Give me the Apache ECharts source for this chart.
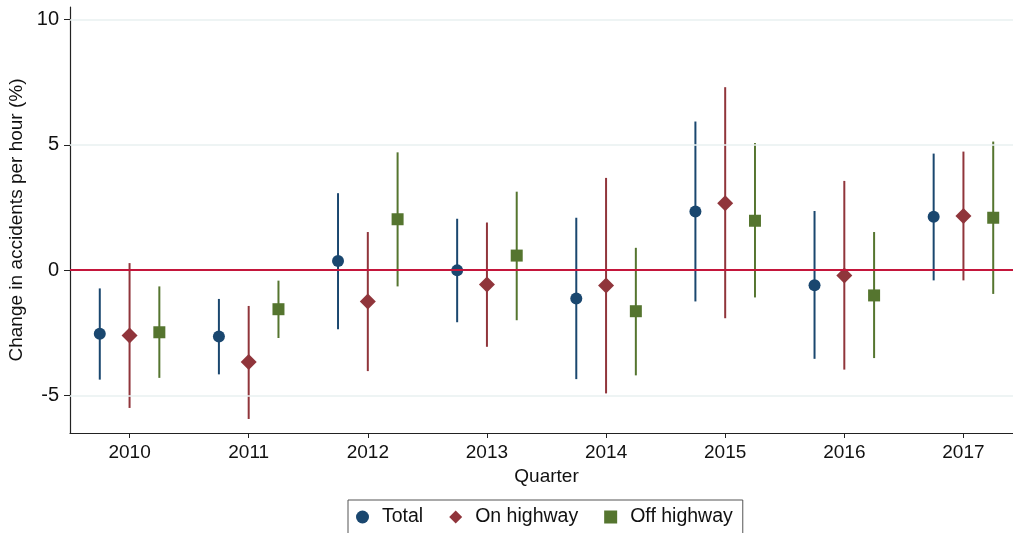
<!DOCTYPE html>
<html>
<head>
<meta charset="utf-8">
<script src="https://cdn.jsdelivr.net/npm/echarts@6/dist/echarts.min.js"></script>
<style>
  html, body { margin: 0; padding: 0; background: #fff; }
  #chart { width: 1013px; height: 533px; }
</style>
</head>
<body>
<div id="chart"></div>
<script>
// Años (posición de cada grupo en el eje x)
const years = [2010, 2011, 2012, 2013, 2014, 2015, 2016, 2017];
const yTicks = [-5, 0, 5, 10];

// Estimaciones e intervalos de confianza
const totalEst = [-2.54, -2.65, 0.36, -0.01, -1.13, 2.34, -0.60, 2.13];
const totalLo  = [-4.37, -4.16, -2.36, -2.08, -4.35, -1.25, -3.54, -0.41];
const totalHi  = [-0.73, -1.15, 3.07, 2.05, 2.09, 5.93, 2.36, 4.65];

const onEst = [-2.61, -3.67, -1.25, -0.57, -0.61, 2.67, -0.21, 2.16];
const onLo  = [-5.50, -5.94, -4.03, -3.06, -4.92, -1.92, -3.97, -0.41];
const onHi  = [0.28, -1.43, 1.52, 1.90, 3.68, 7.30, 3.56, 4.73];

const offEst = [-2.48, -1.56, 2.03, 0.58, -1.64, 1.97, -1.01, 2.09];
const offLo  = [-4.30, -2.71, -0.65, -2.00, -4.20, -1.09, -3.51, -0.95];
const offHi  = [-0.65, -0.42, 4.70, 3.13, 0.89, 5.07, 1.52, 5.13];

const FONT = "'Liberation Sans', Arial, sans-serif";
const NAVY = '#1a476f';
const MAROON = '#90353b';
const GREEN = '#55752f';

// Barras de error: una línea vertical por punto
function errorSeries(offset, lo, hi, color) {
    return {
        type: 'custom',
        silent: true,
        z: 1,
        data: years.map((y, i) => [y + offset, lo[i], hi[i]]),
        renderItem: (params, api) => {
            const a = api.coord([api.value(0), api.value(1)]);
            const b = api.coord([api.value(0), api.value(2)]);
            return {
                type: 'line',
                shape: { x1: a[0], y1: a[1], x2: b[0], y2: b[1] },
                style: { stroke: color, lineWidth: 2 }
            };
        }
    };
}

function pointSeries(name, offset, est, symbol, size, color) {
    return {
        name: name,
        type: 'scatter',
        z: 3,
        symbol: symbol,
        symbolSize: size,
        itemStyle: { color: color, opacity: 1 },
        data: years.map((y, i) => [y + offset, est[i]])
    };
}

const chart = echarts.init(document.getElementById('chart'));

const option = {
    animation: false,
    backgroundColor: '#fff',
    textStyle: { fontFamily: FONT },
    grid: { left: 70, right: -10, top: 7, bottom: 100, containLabel: false, outerBoundsMode: 'none' },
    legend: {
        data: ['Total', 'On highway', 'Off highway'],
        left: 348,
        top: 500,
        padding: [7, 10, 20, 8],
        borderColor: '#555',
        borderWidth: 1,
        itemWidth: 13,
        itemHeight: 13,
        itemGap: 26,
        textStyle: { fontSize: 19.5, color: '#111', fontFamily: FONT, padding: [0, 0, 0, 8] }
    },
    xAxis: {
        type: 'value',
        min: 2009.5,
        max: 2017.5,
        name: 'Quarter',
        nameLocation: 'middle',
        nameGap: 32,
        nameTextStyle: { fontSize: 19, color: '#111', fontFamily: FONT },
        splitLine: { show: false },
        axisLine: { onZero: false, lineStyle: { color: '#222', width: 1.2 } },
        axisTick: { customValues: years, length: 5, lineStyle: { color: '#222' } },
        axisLabel: {
            customValues: years,
            fontSize: 19,
            color: '#111',
            margin: 10,
            formatter: v => String(v)
        }
    },
    yAxis: {
        type: 'value',
        min: -6.5,
        max: 10.5,
        name: 'Change in accidents per hour (%)',
        nameLocation: 'middle',
        nameRotate: 90,
        nameGap: 42,
        nameTextStyle: { fontSize: 19, color: '#111', fontFamily: FONT },
        splitLine: { show: false },
        axisLine: { show: true, onZero: false, lineStyle: { color: '#222', width: 1.2 } },
        axisTick: { show: true, customValues: yTicks, length: 6, lineStyle: { color: '#222' } },
        axisLabel: {
            customValues: yTicks,
            fontSize: 20,
            color: '#111',
            margin: 11,
            formatter: v => String(v)
        }
    },
    series: [
        // Líneas de cuadrícula y línea roja en cero
        {
            type: 'line',
            data: [],
            silent: true,
            z: 0,
            markLine: {
                silent: true,
                symbol: 'none',
                label: { show: false },
                animation: false,
                data: [
                    { yAxis: -5, lineStyle: { color: '#e9f0f1', width: 1.5, type: 'solid' } },
                    { yAxis: 5, lineStyle: { color: '#e9f0f1', width: 1.5, type: 'solid' } },
                    { yAxis: 10, lineStyle: { color: '#e9f0f1', width: 1.5, type: 'solid' } },
                    { yAxis: 0, lineStyle: { color: '#c4163b', width: 1.8, type: 'solid' } }
                ]
            }
        },
        errorSeries(-0.25, totalLo, totalHi, NAVY),
        errorSeries(0, onLo, onHi, MAROON),
        errorSeries(0.25, offLo, offHi, GREEN),
        pointSeries('Total', -0.25, totalEst, 'circle', 12, NAVY),
        pointSeries('On highway', 0, onEst, 'diamond', 16, MAROON),
        pointSeries('Off highway', 0.25, offEst, 'rect', 12, GREEN)
    ]
};

chart.setOption(option);
</script>
</body>
</html>
